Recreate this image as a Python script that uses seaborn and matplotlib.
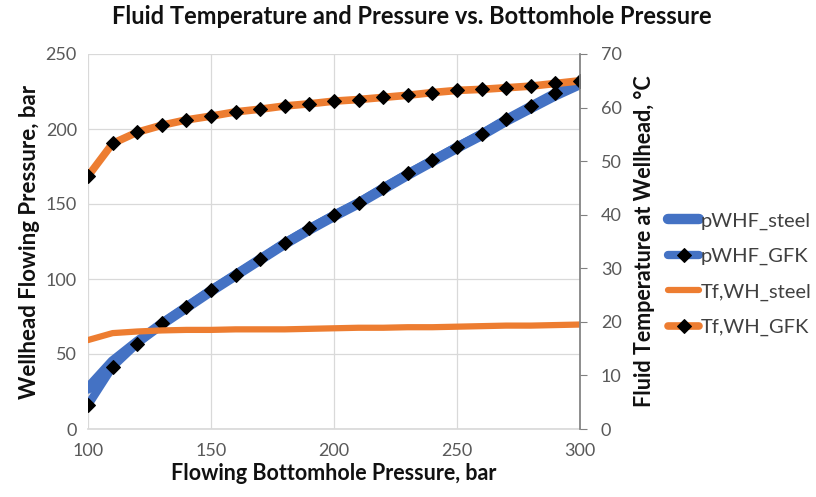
import matplotlib
matplotlib.use("Agg")
import matplotlib.pyplot as plt
import seaborn as sns
import pandas as pd

# Flowing bottomhole pressure, bar
bhp = [100, 110, 120, 130, 140, 150, 160, 170, 180, 190, 200,
       210, 220, 230, 240, 250, 260, 270, 280, 290, 300]

# Wellhead flowing pressure, bar
pwhf_steel = [27, 45, 58, 70, 81, 92, 102.5, 113, 123.5, 133, 142,
              150.5, 160, 169.5, 178.5, 187.5, 196, 205.5, 214, 222.5, 230]
pwhf_gfk = [16, 41.5, 57, 70.5, 81.5, 92.7, 103, 113.3, 124.2, 133.8, 142.7,
            151, 161, 170.4, 179.3, 188.2, 197, 206.7, 215.5, 224.2, 232]

# Fluid temperature at wellhead, °C
tf_steel = [16.6, 17.9, 18.2, 18.4, 18.5, 18.5, 18.6, 18.6, 18.6, 18.7, 18.8,
            18.9, 18.9, 19.0, 19.0, 19.1, 19.2, 19.3, 19.3, 19.4, 19.5]
tf_gfk = [47.2, 53.3, 55.4, 56.7, 57.7, 58.4, 59.2, 59.7, 60.3, 60.7, 61.2,
          61.5, 61.9, 62.3, 62.8, 63.2, 63.4, 63.7, 64.0, 64.5, 65.0]

df = pd.DataFrame({"bhp": bhp, "pwhf_steel": pwhf_steel, "pwhf_gfk": pwhf_gfk,
                   "tf_steel": tf_steel, "tf_gfk": tf_gfk})

BLUE = "#4472C4"
ORANGE = "#ED7D31"
TEXT = "#404040"
TICK = "#595959"

sns.set_theme(style="white")
plt.rcParams["font.family"] = ["Lato", "DejaVu Sans"]

fig = plt.figure(figsize=(8.16, 4.97), dpi=100)
ax = fig.add_axes([88 / 816, 68 / 497, 492 / 816, 375 / 497])
ax2 = ax.twinx()

# pressure on the left axis
sns.lineplot(data=df, x="bhp", y="pwhf_steel", ax=ax, color=BLUE,
             linewidth=7.5, label="pWHF_steel", legend=False)
sns.lineplot(data=df, x="bhp", y="pwhf_gfk", ax=ax, color=BLUE,
             linewidth=6, marker="D", markersize=7, markerfacecolor="black",
             markeredgecolor="black", label="pWHF_GFK", legend=False)

# temperature on the right axis
sns.lineplot(data=df, x="bhp", y="tf_steel", ax=ax2, color=ORANGE,
             linewidth=4.5, label="Tf,WH_steel", legend=False)
sns.lineplot(data=df, x="bhp", y="tf_gfk", ax=ax2, color=ORANGE,
             linewidth=5.5, marker="D", markersize=7, markerfacecolor="black",
             markeredgecolor="black", label="Tf,WH_GFK", legend=False)

ax.set_xlim(100, 300)
ax.set_ylim(0, 250)
ax2.set_ylim(0, 70)
ax.set_xticks([100, 150, 200, 250, 300])
ax.set_yticks([0, 50, 100, 150, 200, 250])
ax2.set_yticks(range(0, 71, 10))

ax.grid(True, color="#D9D9D9", linewidth=0.9)
ax.set_axisbelow(True)
ax2.grid(False)

for a in (ax, ax2):
    for s in ("top", "left"):
        a.spines[s].set_visible(False)
    a.spines["bottom"].set_color("#D9D9D9")
ax.spines["right"].set_visible(False)
ax2.spines["right"].set_visible(True)
ax2.spines["right"].set_color("#808080")
ax2.spines["bottom"].set_visible(False)

ax.tick_params(axis="x", length=0, labelsize=13, labelcolor=TICK, pad=10)
ax.tick_params(axis="y", length=0, labelsize=13, labelcolor=TICK, pad=8)
ax2.tick_params(axis="y", right=True, length=5, color="#808080", width=0.8,
                labelsize=13, labelcolor=TICK, pad=10)

ax.set_xlabel("Flowing Bottomhole Pressure, bar", fontsize=15.5,
              fontweight="bold", color="#111111", labelpad=3)
ax.set_ylabel("Wellhead Flowing Pressure, bar", fontsize=16,
              fontweight="bold", color="#111111", labelpad=4)
ax2.set_ylabel("Fluid Temperature at Wellhead, °C", fontsize=15.5,
               fontweight="bold", color="#111111", labelpad=9)

fig.suptitle("Fluid Temperature and Pressure vs. Bottomhole Pressure",
             x=0.505, y=0.99, fontsize=17, fontweight="bold", color="#111111")

handles = ax.get_lines()[:2] + ax2.get_lines()[:2]
labels = ["pWHF_steel", "pWHF_GFK", "Tf,WH_steel", "Tf,WH_GFK"]
fig.legend(handles, labels, loc="center left", bbox_to_anchor=(0.797, 0.448),
           frameon=False, fontsize=14.5, handlelength=1.5, handletextpad=0.1,
           labelspacing=0.9, labelcolor=TEXT)

fig.savefig("out.png", dpi=100)
